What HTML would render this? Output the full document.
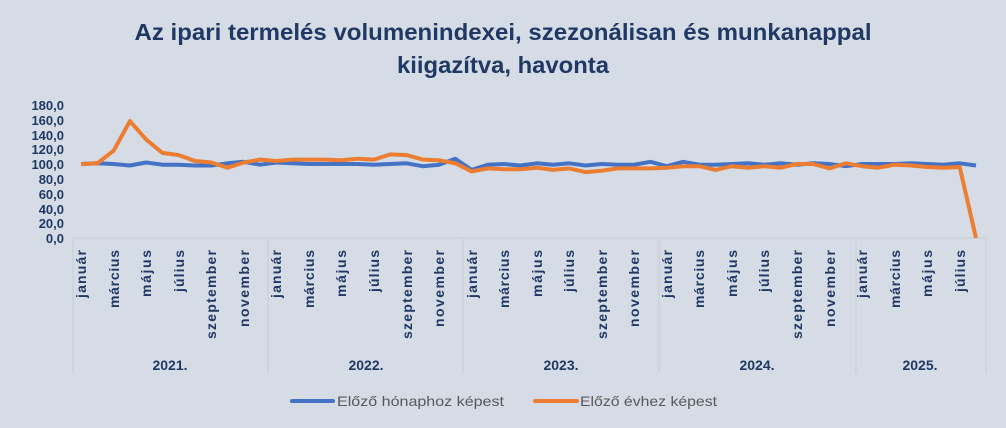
<!DOCTYPE html>
<html><head><meta charset="utf-8"><style>
body{margin:0;background:#d6dce5;}
svg{display:block;font-family:"Liberation Sans",sans-serif;}
.m{font-size:14px;font-weight:bold;fill:#1f3864;text-anchor:end;}
.y{font-size:13px;font-weight:bold;fill:#1f3864;text-anchor:end;}
.yr{font-size:14px;font-weight:bold;fill:#1f3864;text-anchor:middle;}
</style></head><body>
<svg width="1006" height="428" viewBox="0 0 1006 428">
<rect width="1006" height="428" fill="#d6dce5"/>
<text x="503" y="40" text-anchor="middle" font-size="23" font-weight="bold" fill="#1f3864" textLength="737" lengthAdjust="spacingAndGlyphs">Az ipari termelés volumenindexei, szezonálisan és munkanappal</text>
<text x="503" y="73" text-anchor="middle" font-size="23" font-weight="bold" fill="#1f3864" textLength="212" lengthAdjust="spacingAndGlyphs">kiigazítva, havonta</text>
<g class="y">
<text x="64" y="110">180,0</text><text x="64" y="125">160,0</text><text x="64" y="140">140,0</text><text x="64" y="154">120,0</text><text x="64" y="169">100,0</text><text x="64" y="184">80,0</text><text x="64" y="199">60,0</text><text x="64" y="214">40,0</text><text x="64" y="228">20,0</text><text x="64" y="243">0,0</text>
</g>
<g stroke="#c8ccd2" stroke-width="1" fill="none">
<line x1="73" y1="238" x2="986" y2="238"/>
<line x1="73" y1="238" x2="73" y2="373"/>
<line x1="268" y1="238" x2="268" y2="373"/>
<line x1="463" y1="238" x2="463" y2="373"/>
<line x1="659" y1="238" x2="659" y2="373"/>
<line x1="856" y1="238" x2="856" y2="373"/>
<line x1="986" y1="238" x2="986" y2="373"/>
</g>
<g class="m" lengthAdjust="spacingAndGlyphs">
<text transform="translate(86,250) rotate(-90)" textLength="48">január</text>
<text transform="translate(119,250) rotate(-90)" textLength="58">március</text>
<text transform="translate(151,250) rotate(-90)" textLength="47">május</text>
<text transform="translate(184,250) rotate(-90)" textLength="42">július</text>
<text transform="translate(216,250) rotate(-90)" textLength="89">szeptember</text>
<text transform="translate(249,250) rotate(-90)" textLength="77">november</text>
<text transform="translate(281,250) rotate(-90)" textLength="48">január</text>
<text transform="translate(314,250) rotate(-90)" textLength="58">március</text>
<text transform="translate(346,250) rotate(-90)" textLength="47">május</text>
<text transform="translate(379,250) rotate(-90)" textLength="42">július</text>
<text transform="translate(412,250) rotate(-90)" textLength="89">szeptember</text>
<text transform="translate(444,250) rotate(-90)" textLength="77">november</text>
<text transform="translate(477,250) rotate(-90)" textLength="48">január</text>
<text transform="translate(509,250) rotate(-90)" textLength="58">március</text>
<text transform="translate(542,250) rotate(-90)" textLength="47">május</text>
<text transform="translate(574,250) rotate(-90)" textLength="42">július</text>
<text transform="translate(607,250) rotate(-90)" textLength="89">szeptember</text>
<text transform="translate(639,250) rotate(-90)" textLength="77">november</text>
<text transform="translate(672,250) rotate(-90)" textLength="48">január</text>
<text transform="translate(704,250) rotate(-90)" textLength="58">március</text>
<text transform="translate(737,250) rotate(-90)" textLength="47">május</text>
<text transform="translate(769,250) rotate(-90)" textLength="42">július</text>
<text transform="translate(802,250) rotate(-90)" textLength="89">szeptember</text>
<text transform="translate(835,250) rotate(-90)" textLength="77">november</text>
<text transform="translate(867,250) rotate(-90)" textLength="48">január</text>
<text transform="translate(900,250) rotate(-90)" textLength="58">március</text>
<text transform="translate(932,250) rotate(-90)" textLength="47">május</text>
<text transform="translate(965,250) rotate(-90)" textLength="42">július</text>
</g>
<g class="yr">
<text x="170" y="370">2021.</text><text x="366" y="370">2022.</text><text x="561" y="370">2023.</text><text x="757" y="370">2024.</text><text x="920" y="370">2025.</text>
</g>
<polyline id="b" fill="none" stroke="#4472c4" stroke-width="4" stroke-linejoin="round"/>
<polyline id="o" fill="none" stroke="#ed7d31" stroke-width="4" stroke-linejoin="round"/>
<line x1="292" y1="401" x2="333" y2="401" stroke="#4472c4" stroke-width="4" stroke-linecap="round"/>
<text x="337" y="406" font-size="14" fill="#595959" textLength="167" lengthAdjust="spacingAndGlyphs">Előző hónaphoz képest</text>
<line x1="535" y1="401" x2="577" y2="401" stroke="#ed7d31" stroke-width="4" stroke-linecap="round"/>
<text x="580" y="406" font-size="14" fill="#595959" textLength="137" lengthAdjust="spacingAndGlyphs">Előző évhez képest</text>
</svg>
<script>
var B=[100,101,100,98,102,99,99,98,98,101,103,99,102,101,100,100,100,100,99,100,101,97,99,107,92,99,100,98,101,99,101,98,100,99,99,103,97,103,99,99,100,101,99,101,99,101,100,97,100,100,100,101,100,99,101,98];
var O=[100,101,118,158,133,115,112,104,102,95,102,106,104,106,106,106,105,107,106,113,112,106,105,101,90,94,93,93,95,92,94,89,91,94,94,94,95,97,97,92,97,95,97,95,100,100,94,101,97,95,99,98,96,95,96,0];
function pts(a){return a.map(function(v,i){return (81.1+16.27*i).toFixed(1)+","+(238-v*0.74).toFixed(1)}).join(" ")}
document.getElementById("b").setAttribute("points",pts(B));
document.getElementById("o").setAttribute("points",pts(O));
</script>
</body></html>
